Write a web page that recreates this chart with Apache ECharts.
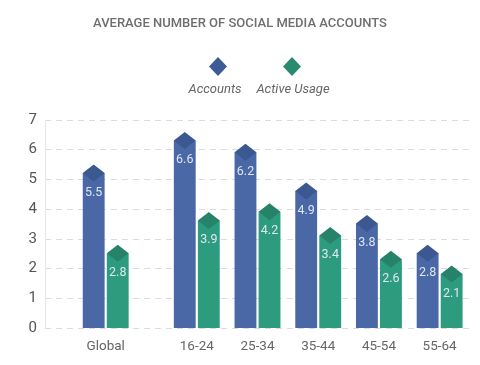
<!DOCTYPE html>
<html><head><meta charset="utf-8">
<script src="https://cdn.jsdelivr.net/npm/echarts@6/dist/echarts.min.js"></script>
<style>html,body{margin:0;padding:0;background:#fff}#c{width:480px;height:365px}</style>
</head><body><div id="c"></div>
<script>
var categories = ['Global', '16-24', '25-34', '35-44', '45-54', '55-64'];
var accounts = [5.5, 6.6, 6.2, 4.9, 3.8, 2.8];
var activeUsage = [2.8, 3.9, 4.2, 3.4, 2.6, 2.1];
var seriesNames = ['Accounts', 'Active Usage'];
var yTicks = [0, 1, 2, 3, 4, 5, 6, 7];

var FONT = 'Roboto, sans-serif';
var barColors = ['#4a68a6', '#2d9b7e'];
var capColors = ['#3c5890', '#26836a'];

function pos(i) { return i === 0 ? 0 : i + 0.5; }
var positions = categories.map(function (c, i) { return pos(i); });

function makeRender(k) {
  return function (params, api) {
    var x = api.value(0), v = api.value(1);
    var unit = api.size([1, 0])[0];
    var w = unit * 0.36;
    var off = (k === 0 ? -1 : 1) * unit * 0.198;
    var base = api.coord([x, 0]);
    var top = api.coord([x, v]);
    var cx = base[0] + off;
    var hh = 8.5;
    return {
      type: 'group',
      children: [
        { type: 'rect', shape: { x: cx - w / 2, y: top[1] + hh, width: w, height: base[1] - top[1] - hh },
          style: { fill: barColors[k] } },
        { type: 'polygon', shape: { points: [[cx, top[1]], [cx + w / 2, top[1] + hh], [cx, top[1] + 2 * hh], [cx - w / 2, top[1] + hh]] },
          style: { fill: capColors[k] } },
        { type: 'text', style: { text: v.toFixed(1), x: cx, y: top[1] + 28, align: 'center', verticalAlign: 'middle',
          fill: '#dfe6f5', fontSize: 12.5, fontFamily: FONT } }
      ]
    };
  };
}

function seriesData(vals) { return vals.map(function (v, i) { return [pos(i), v]; }); }

var chart = echarts.init(document.getElementById('c'), null, { renderer: 'canvas' });
chart.setOption({
  animation: false,
  backgroundColor: '#fff',
  title: { text: 'AVERAGE NUMBER OF SOCIAL MEDIA ACCOUNTS', left: 'center', top: 12,
    textStyle: { fontSize: 13, fontWeight: 500, color: '#6e6e6e', fontFamily: FONT } },
  grid: { left: 45, right: 10, top: 120, bottom: 37, containLabel: false },
  xAxis: {
    type: 'value', min: -1, max: 6,
    axisLine: { show: false }, axisTick: { show: false }, splitLine: { show: false },
    axisLabel: { customValues: positions, margin: 12, fontSize: 13.5, color: '#666', fontFamily: FONT,
      formatter: function (val) { var i = positions.indexOf(val); return i >= 0 ? categories[i] : ''; } }
  },
  yAxis: {
    type: 'value', min: 0, max: 7, interval: 1,
    axisLine: { show: true, onZero: false, lineStyle: { color: '#e6e6e6' } }, axisTick: { show: false },
    splitLine: { lineStyle: { color: '#dcdcdc', type: [6, 5], width: 1 } },
    axisLabel: { margin: 8, fontSize: 15, color: '#555', fontFamily: FONT,
      formatter: function (v) { return yTicks.indexOf(v) >= 0 ? String(v) : ''; } }
  },
  graphic: [
    { type: 'polygon', shape: { points: [[218, 57], [227, 66.5], [218, 76], [209, 66.5]] }, style: { fill: '#3d5a94' } },
    { type: 'text', style: { text: seriesNames[0], x: 215, y: 90, align: 'center', verticalAlign: 'middle',
      fill: '#666', fontSize: 13, fontStyle: 'italic', fontFamily: FONT } },
    { type: 'polygon', shape: { points: [[292, 57], [301, 66.5], [292, 76], [283, 66.5]] }, style: { fill: '#2a8a70' } },
    { type: 'text', style: { text: seriesNames[1], x: 293, y: 90, align: 'center', verticalAlign: 'middle',
      fill: '#666', fontSize: 13, fontStyle: 'italic', fontFamily: FONT } }
  ],
  series: [
    { type: 'custom', name: seriesNames[0], renderItem: makeRender(0), data: seriesData(accounts), encode: { x: 0, y: 1 } },
    { type: 'custom', name: seriesNames[1], renderItem: makeRender(1), data: seriesData(activeUsage), encode: { x: 0, y: 1 } }
  ]
});
</script></body></html>
